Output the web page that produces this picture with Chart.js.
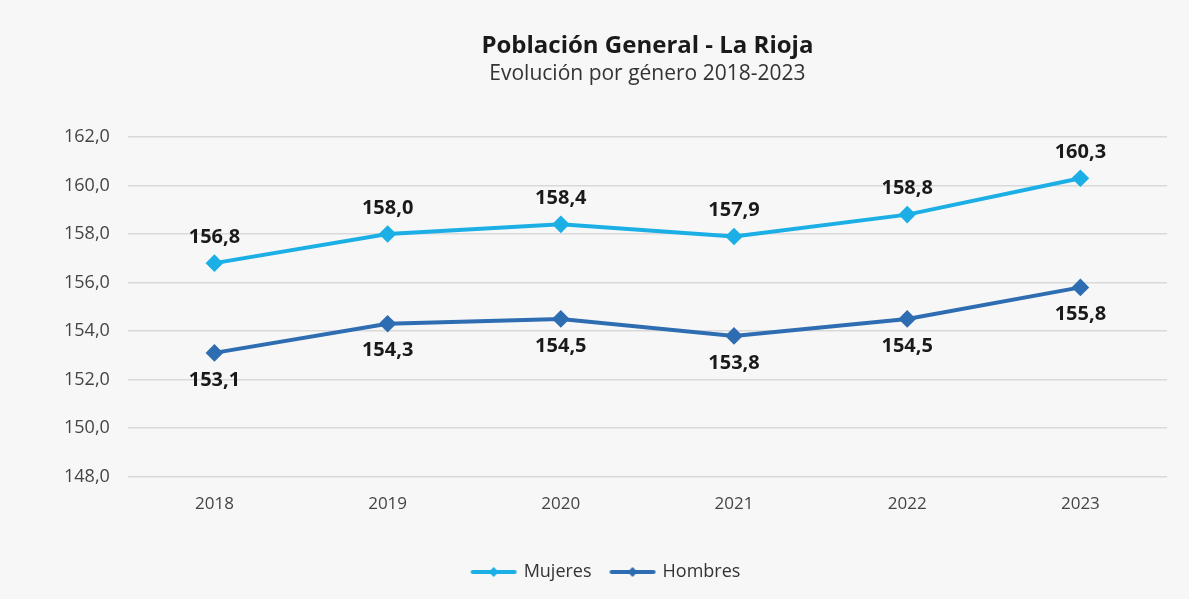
<!DOCTYPE html>
<html>
<head>
<meta charset="utf-8">
<script src="https://cdn.jsdelivr.net/npm/chart.js@4.4.1/dist/chart.umd.min.js"></script>
<style>
  html, body { margin: 0; padding: 0; background: #ffffff; }
  #wrap { width: 1189px; height: 599px; position: relative; background: #f7f7f7; }
</style>
</head>
<body>
<div id="wrap"><canvas id="c" width="1189" height="599"></canvas></div>
<script>
const categories = ['2018', '2019', '2020', '2021', '2022', '2023'];
const mujeres = [156.8, 158.0, 158.4, 157.9, 158.8, 160.3];
const hombres = [153.1, 154.3, 154.5, 153.8, 154.5, 155.8];
const seriesNames = ['Mujeres', 'Hombres'];
const titleText = 'Población General - La Rioja';
const subtitleText = 'Evolución por género 2018-2023';

const colMuj = '#1bafe6';
const colHom = '#2e6db2';
const FONT = '"Open Sans", "Noto Sans", sans-serif';

function fmt(v) { return v.toFixed(1).replace('.', ','); }

function legendIcon(color) {
  const c = document.createElement('canvas');
  c.width = 48; c.height = 12;
  const g = c.getContext('2d');
  g.strokeStyle = color; g.lineWidth = 4; g.lineCap = 'round';
  g.beginPath(); g.moveTo(3, 6); g.lineTo(45, 6); g.stroke();
  g.fillStyle = color;
  g.beginPath(); g.moveTo(24, 1); g.lineTo(29, 6); g.lineTo(24, 11); g.lineTo(19, 6); g.closePath(); g.fill();
  return c;
}
const icons = [legendIcon(colMuj), legendIcon(colHom)];

const labelPlugin = {
  id: 'valLabels',
  afterDatasetsDraw(chart) {
    const ctx = chart.ctx;
    ctx.save();
    ctx.font = 'bold 20px ' + FONT;
    ctx.fillStyle = '#1a1a1a';
    ctx.textAlign = 'center';
    ctx.textBaseline = 'middle';
    chart.data.datasets.forEach((ds, i) => {
      const meta = chart.getDatasetMeta(i);
      meta.data.forEach((pt, j) => {
        const off = i === 0 ? -26 : 27;
        ctx.fillText(fmt(ds.data[j]), pt.x, pt.y + off);
      });
    });
    ctx.restore();
  }
};

new Chart(document.getElementById('c'), {
  type: 'line',
  data: {
    labels: categories,
    datasets: [
      { label: seriesNames[0], data: mujeres, borderColor: colMuj, backgroundColor: colMuj,
        borderWidth: 4, pointStyle: 'rectRot', pointRadius: 6, pointHoverRadius: 6, tension: 0 },
      { label: seriesNames[1], data: hombres, borderColor: colHom, backgroundColor: colHom,
        borderWidth: 4, pointStyle: 'rectRot', pointRadius: 6, pointHoverRadius: 6, tension: 0 }
    ]
  },
  options: {
    responsive: false,
    animation: false,
    events: [],
    layout: { padding: { top: 22, left: 46, right: 22, bottom: 8 } },
    plugins: {
      title: { display: true, text: titleText, color: '#1a1a1a', fullSize: false,
        font: { family: FONT, size: 24, weight: 'bold' }, padding: { top: 10, bottom: 0 } },
      subtitle: { display: true, text: subtitleText, color: '#333333', fullSize: false,
        font: { family: FONT, size: 21 }, padding: { top: 1, bottom: 50 } },
      legend: { position: 'bottom',
        labels: { color: '#333', font: { family: FONT, size: 18 }, usePointStyle: true,
          pointStyleWidth: 42, padding: 20,
          generateLabels(chart) {
            return chart.data.datasets.map((ds, i) => ({
              text: ds.label, pointStyle: icons[i], fillStyle: ds.borderColor,
              strokeStyle: ds.borderColor, lineWidth: 0, hidden: false, datasetIndex: i, fontColor: '#333'
            }));
          } } },
      tooltip: { enabled: false }
    },
    scales: {
      x: { offset: true, grid: { display: false, drawTicks: false }, border: { display: false },
        ticks: { color: '#444', font: { family: FONT, size: 17 }, padding: 17 },
        afterFit(scale) { scale.height += 12; } },
      y: { min: 148, max: 162, border: { display: false },
        grid: { color: '#d9d9d9', lineWidth: 1.5, drawTicks: false },
        ticks: { stepSize: 2, color: '#444', font: { family: FONT, size: 18 }, padding: 18,
          callback: (v) => fmt(v) } }
    }
  },
  plugins: [labelPlugin]
});
</script>
</body>
</html>
